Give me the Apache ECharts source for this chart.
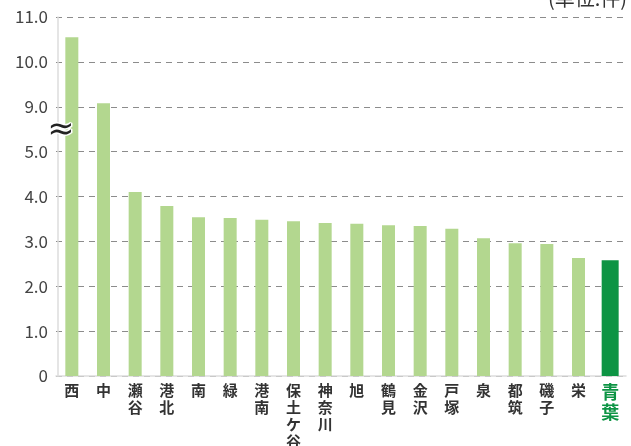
<!DOCTYPE html>
<html>
<head>
<meta charset="utf-8">
<script src="https://cdn.jsdelivr.net/npm/echarts@6/dist/echarts.min.js"></script>
<style>
  html, body { margin: 0; padding: 0; background: #fff; }
  #chart { width: 631px; height: 446px; }
</style>
</head>
<body>
<div id="chart"></div>
<script>
// 区名
var wards = ["西", "中", "瀬谷", "港北", "南", "緑", "港南", "保土ケ谷", "神奈川", "旭", "鶴見", "金沢", "戸塚", "泉", "都筑", "磯子", "栄", "青葉"];
// 件数
var counts = [10.55, 9.08, 4.10, 3.79, 3.54, 3.52, 3.48, 3.45, 3.41, 3.39, 3.36, 3.34, 3.28, 3.07, 2.96, 2.94, 2.63, 2.58];
// 強調する区
var highlight = "青葉";
// 目盛（5.0 と 9.0 の間を省略）
var tickLabels = ["0", "1.0", "2.0", "3.0", "4.0", "5.0", "9.0", "10.0", "11.0"];
var breakFrom = 5, breakGap = 3;

// 省略した軸の上での位置
function toAxis(v) {
  return v > breakFrom ? v - breakGap : v;
}

var mainData = wards.map(function (w, i) {
  return w === highlight ? "-" : toAxis(counts[i]);
});
var hlData = wards.map(function (w, i) {
  return w === highlight ? toAxis(counts[i]) : "-";
});

var chart = echarts.init(document.getElementById("chart"));
var fontJP = '"Noto Sans CJK JP", "Noto Sans", sans-serif';

var xLabel = {
  interval: 0,
  margin: 6,
  color: "#333",
  fontFamily: fontJP,
  fontSize: 15,
  fontWeight: "bold",
  lineHeight: 17,
  verticalAlign: "top",
  formatter: function (v) {
    var s = v.split("").join("\n");
    return v === highlight ? "{hl|" + s + "}" : s;
  },
  rich: {
    hl: {
      color: "#0d9444",
      fontFamily: fontJP,
      fontSize: 18,
      fontWeight: "bold",
      lineHeight: 20
    }
  }
};

chart.setOption({
  animation: false,
  grid: { left: 56, right: 5, top: 17, bottom: 70, outerBoundsMode: "none" },
  xAxis: [
    {
      type: "category",
      data: wards,
      axisLine: { lineStyle: { color: "#ddd", width: 1.5 } },
      axisTick: { show: false },
      axisLabel: xLabel
    },
    {
      type: "category",
      data: wards,
      show: false
    }
  ],
  yAxis: {
    type: "value",
    min: 0,
    max: 8,
    interval: 1,
    offset: -2,
    axisLine: { show: true, lineStyle: { color: "#ddd", width: 1.5 } },
    axisTick: { show: false },
    axisLabel: {
      margin: 10,
      color: "#444",
      fontFamily: fontJP,
      fontSize: 17,
      formatter: function (v) {
        return tickLabels[Math.round(v)];
      }
    },
    splitLine: {
      lineStyle: { color: "#8c8c8c", type: [6, 5], width: 1 }
    }
  },
  series: [
    {
      type: "bar",
      data: mainData,
      barWidth: 13,
      itemStyle: { color: "#b3d78f" }
    },
    {
      type: "bar",
      xAxisIndex: 1,
      data: hlData,
      barWidth: 17,
      itemStyle: { color: "#0d9444" }
    }
  ],
  graphic: [
    {
      type: "text",
      right: 4,
      top: -12,
      style: {
        text: "(単位:件)",
        fill: "#333",
        font: '20px "Noto Sans CJK JP", sans-serif'
      }
    },
    {
      type: "text",
      left: 46,
      top: 113,
      z: 100,
      style: {
        text: "≈",
        fill: "#222",
        stroke: "#fff",
        lineWidth: 3,
        font: '32px "DejaVu Sans", sans-serif'
      }
    }
  ]
});
</script>
</body>
</html>
